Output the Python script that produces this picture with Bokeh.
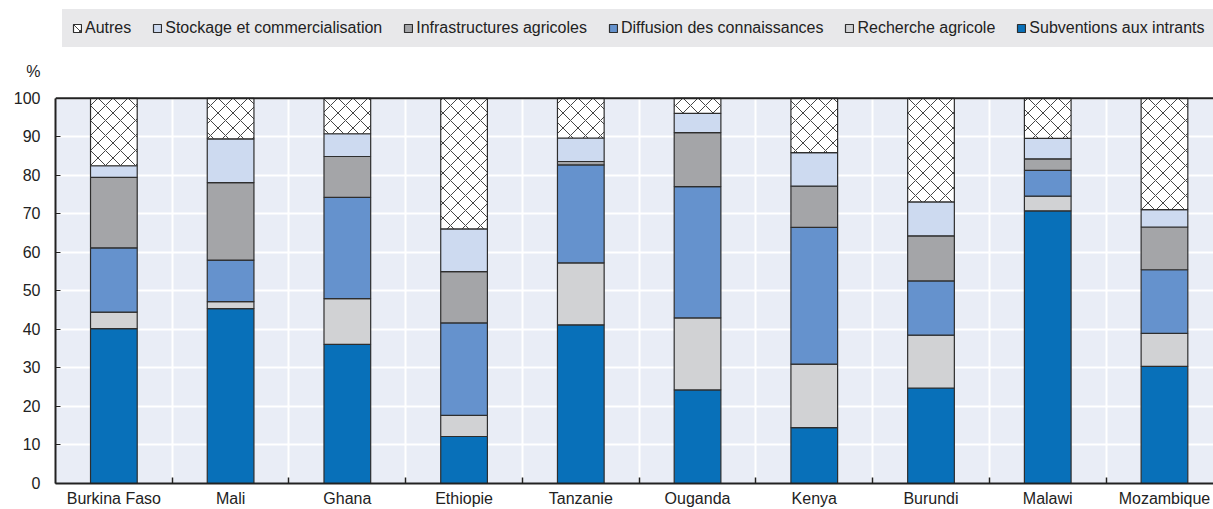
from bokeh.plotting import figure
from bokeh.models import (ColumnDataSource, Legend, LegendItem, FixedTicker, Span, BoxAnnotation)
from bokeh.transform import stack
from bokeh.embed import file_html
from bokeh.resources import INLINE

countries = ["Burkina Faso", "Mali", "Ghana", "Ethiopie", "Tanzanie",
             "Ouganda", "Kenya", "Burundi", "Malawi", "Mozambique"]
subventions = [40.2, 45.4, 36.1, 12.2, 41.2, 24.3, 14.5, 24.8, 70.8, 30.4]
recherche = [4.3, 1.8, 11.9, 5.5, 16.1, 18.7, 16.5, 13.7, 3.8, 8.6]
diffusion = [16.7, 10.8, 26.3, 24.0, 25.4, 34.1, 35.5, 14.1, 6.7, 16.5]
infrastructures = [18.3, 20.1, 10.6, 13.3, 0.9, 14.0, 10.7, 11.7, 3.0, 11.1]
stockage = [3.0, 11.4, 5.9, 11.1, 6.1, 5.0, 8.7, 8.8, 5.3, 4.5]
autres = [17.5, 10.5, 9.2, 33.9, 10.3, 3.9, 14.1, 26.9, 10.4, 28.9]
y_ticks = list(range(0, 101, 10))
unit_label = "%"

series_names = ["Subventions aux intrants", "Recherche agricole", "Diffusion des connaissances",
                "Infrastructures agricoles", "Stockage et commercialisation", "Autres"]
keys = ["subv", "rech", "diff", "infra", "stock", "autres"]
colors = ["#0870b9", "#d1d2d4", "#6592cd", "#a4a5a8", "#cddaf0", "#ffffff"]

FONT = "Liberation Sans"
TXT = "#222222"
Y_TOP = 125.4          # room above 100 % for the legend band and the unit label

n = len(countries)
pos = [i + 0.5 for i in range(n)]
bounds_x = list(range(1, n))
source = ColumnDataSource(dict(x=pos, subv=subventions, rech=recherche, diff=diffusion,
                               infra=infrastructures, stock=stockage, autres=autres))

p = figure(width=1213, height=509, x_range=(0, n - 0.08), y_range=(0, Y_TOP),
           output_backend="svg", toolbar_location=None,
           min_border_left=55, min_border_right=0, min_border_bottom=25, min_border_top=0)
p.background_fill_color = "white"
p.border_fill_color = "white"
p.outline_line_color = None

# light plot background below 100 %
p.add_layout(BoxAnnotation(bottom=0, top=100, fill_color="#e9edf6", fill_alpha=1.0,
                           line_color=None, level="image"))

renderers = []
for i, k in enumerate(keys):
    kw = {}
    if k == "autres":
        kw = dict(hatch_pattern="diagonal_cross", hatch_color="#444444",
                  hatch_scale=15, hatch_weight=1.0)
    r = p.vbar(x="x", width=0.40, bottom=stack(*keys[:i]), top=stack(*keys[:i + 1]),
               source=source, fill_color=colors[i], line_color="#2e2e2e", line_width=1.2, **kw)
    renderers.append(r)

# grid
p.xgrid.ticker = FixedTicker(ticks=bounds_x)
p.xgrid.grid_line_color = "white"
p.xgrid.grid_line_width = 2
p.ygrid.ticker = FixedTicker(ticks=y_ticks)
p.ygrid.grid_line_color = "white"
p.ygrid.grid_line_width = 2

# x axis
p.xaxis.ticker = FixedTicker(ticks=pos, minor_ticks=bounds_x)
p.xaxis.major_label_overrides = {x: c for x, c in zip(pos, countries)}
p.xaxis.major_tick_line_color = None
p.xaxis.major_tick_in = 0
p.xaxis.major_tick_out = 0
p.xaxis.minor_tick_in = 6
p.xaxis.minor_tick_out = 0
p.xaxis.minor_tick_line_color = TXT
p.xaxis.minor_tick_line_width = 1.5
p.xaxis.axis_line_color = TXT
p.xaxis.axis_line_width = 2
p.xaxis.major_label_text_font = FONT
p.xaxis.major_label_text_font_size = "16px"
p.xaxis.major_label_text_color = TXT
p.xaxis.major_label_standoff = 6

# y axis (0-100); the "%" unit is written on a line above the top tick label
yax = p.yaxis[0]
yax.ticker = FixedTicker(ticks=y_ticks)
yax.bounds = (0, 100)
top_tick = y_ticks[-1]
yax.major_label_overrides = {top_tick: unit_label + "\n" + str(top_tick) + "\n "}
yax.major_label_text_line_height = 1.55
yax.major_tick_in = 5
yax.major_tick_out = 0
yax.minor_tick_in = 0
yax.minor_tick_out = 0
yax.major_tick_line_color = TXT
yax.minor_tick_line_color = None
yax.axis_line_color = TXT
yax.axis_line_width = 2
yax.major_label_text_font = FONT
yax.major_label_text_font_size = "16px"
yax.major_label_text_color = TXT
yax.major_label_standoff = 15

p.add_layout(Span(location=100, dimension="width", line_color=TXT, line_width=2))

items = [LegendItem(label=series_names[i], renderers=[renderers[i]]) for i in reversed(range(6))]
legend = Legend(items=items, orientation="horizontal", location=(7, 436),
                label_text_font=FONT, label_text_font_size="16px", label_text_color=TXT,
                glyph_width=10, glyph_height=10, label_standoff=3, spacing=21,
                padding=9, margin=0, background_fill_color="#e8e8ea",
                background_fill_alpha=1.0, border_line_color="#e8e8ea", border_line_width=1)
p.add_layout(legend)

open("out.html", "w").write(file_html(p, INLINE))
